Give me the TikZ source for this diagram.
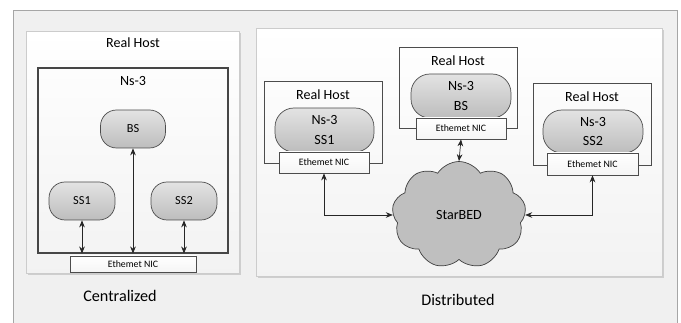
\documentclass[tikz,border=0pt]{standalone}
\usepackage{fontspec}
\setmainfont{Carlito}
\usetikzlibrary{arrows.meta,positioning,shapes.symbols,shadows}
\tikzset{
  both/.style={{Stealth[length=4pt,width=3.2pt]}-{Stealth[length=4pt,width=3.2pt]}, thin, gray!30!black},
  panel/.style={draw=gray!40, top color=white, bottom color=gray!10, inner sep=0pt,
    drop shadow={shadow xshift=1.2pt, shadow yshift=-1.2pt, opacity=0.3}},
  hostbox/.style={draw=gray!60!black, inner sep=0pt},
  sim/.style={draw=gray!60!black, rounded corners=0.38cm, top color=gray!22, bottom color=gray!52,
    inner sep=0pt, align=center, font=\fontsize{8}{11}\selectfont},
  nic/.style={draw=gray!60!black, top color=white, bottom color=gray!8, inner sep=0pt,
    font=\fontsize{5.6}{6}\selectfont},
  lbl/.style={font=\fontsize{8}{9}\selectfont},
  captxt/.style={font=\fontsize{9.2}{10}\selectfont},
}

\begin{document}
\begin{tikzpicture}[x=0.02cm, y=-0.02cm]
\useasboundingbox (0,0) rectangle (681,323);
\draw[gray!70, fill=gray!12] (13,10) rectangle (677,340);
% centralized
\node[panel, minimum width=4.26cm, minimum height=4.84cm] (lhost) at (132.5,152) {};
\node[lbl] (lhostlbl) at (133,43) {Real Host};
\node[hostbox, draw=gray!55!black, semithick, minimum width=3.8cm, minimum height=3.7cm] (ns) at (133,160.5) {};
\node[lbl] (nslbl) at (133,81) {Ns-3};
\node[sim, rounded corners=0.32cm, minimum width=1.3cm, minimum height=0.76cm, font=\fontsize{7}{8}\selectfont] (bs) at (133,129) {BS};
\node[sim, rounded corners=0.32cm, minimum width=1.32cm, minimum height=0.76cm, font=\fontsize{7}{8}\selectfont] (ss1) at (82,201) {SS1};
\node[sim, rounded corners=0.32cm, minimum width=1.32cm, minimum height=0.76cm, font=\fontsize{7}{8}\selectfont] (ss2) at (184,201) {SS2};
\node[nic, minimum width=2.52cm, minimum height=0.32cm] (lnic) at (133,264) {Ethemet NIC};
\draw[both] (ss1.south) -- (ss1.south |- ns.south);
\draw[both] (bs.south) -- (bs.south |- ns.south);
\draw[both] (ss2.south) -- (ss2.south |- ns.south);
\node[captxt] (central) at (120,296) {Centralized};
% distributed
\node[panel, minimum width=8.12cm, minimum height=4.96cm] (rpanel) at (459,152) {};
\node[hostbox, minimum width=2.36cm, minimum height=1.64cm] (h1) at (323,122) {};
\node[lbl] (h1lbl) at (323,95) {Real Host};
\node[sim, minimum width=1.98cm, minimum height=0.88cm] (sim1) at (324.5,130) {Ns-3\\SS1};
\node[nic, minimum width=1.8cm, minimum height=0.42cm] (nic1) at (324,162.5) {Ethemet NIC};
\node[hostbox, minimum width=2.36cm, minimum height=1.62cm] (h2) at (458,87.5) {};
\node[lbl] (h2lbl) at (458,61) {Real Host};
\node[sim, minimum width=2cm, minimum height=0.88cm] (sim2) at (461,96) {Ns-3\\BS};
\node[nic, minimum width=1.8cm, minimum height=0.42cm] (nic2) at (461,128.5) {Ethemet NIC};
\node[hostbox, minimum width=2.36cm, minimum height=1.64cm] (h3) at (592,124) {};
\node[lbl] (h3lbl) at (592,97) {Real Host};
\node[sim, minimum width=2cm, minimum height=0.86cm] (sim3) at (593,131.5) {Ns-3\\SS2};
\node[nic, minimum width=1.82cm, minimum height=0.44cm] (nic3) at (592.5,164) {Ethemet NIC};
\node[cloud, cloud puffs=9, cloud puff arc=115, aspect=1.2, draw=gray!50!black, fill=gray!50,
  minimum width=2.68cm, minimum height=2.14cm, lbl] (bed) at (459,215) {StarBED};
\draw[both] (nic2.south) -- (bed.north);
\draw[both] (nic1.south) |- (bed.west);
\draw[both] (nic3.south) |- (bed.east);
\node[captxt] (distrib) at (458,300) {Distributed};
\end{tikzpicture}
\end{document}
